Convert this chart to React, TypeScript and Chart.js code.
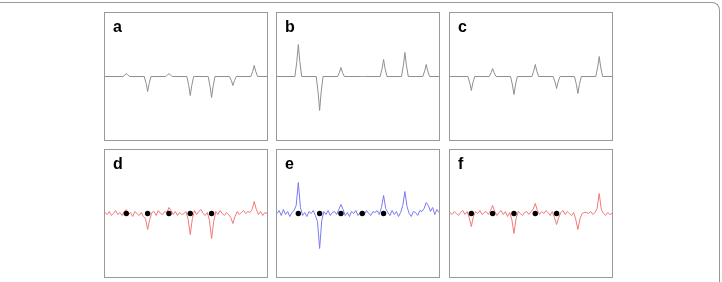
import React, { useEffect, useRef } from "react";
import { Chart, registerables } from "chart.js";

Chart.register(...registerables);

// Clean signals (panels a, b, c): x positions shared, y values per panel
const cleanX = [0, 16.8, 18.6, 20, 21.4, 23.2, 36.8, 38.6, 40, 41.4, 43.2, 56.8, 58.6, 60, 61.4, 63.2, 76.8, 78.6, 80, 81.4, 83.2, 96.8, 98.6, 100, 101.4, 103.2, 116.8, 118.6, 120, 121.4, 123.2, 136.8, 138.6, 140, 141.4, 143.2, 152];
const seriesA = [0, 0, 1.4, 3, 1.4, 0, 0, -7, -15, -7, 0, 0, 1.4, 3, 1.4, 0, 0, -9, -19, -9, 0, 0, -10, -21, -10, 0, 0, -4.2, -9, -4.2, 0, 0, 5.2, 11, 5.2, 0, 0];
const seriesB = [0, 0, 15, 32, 15, 0, 0, -16, -34, -16, 0, 0, 4.2, 9, 4.2, 0, 0, 0, 0, 0, 0, 0, 8, 17, 8, 0, 0, 11.3, 24, 11.3, 0, 0, 5.6, 12, 5.6, 0, 0];
const seriesC = [0, 0, -6.6, -14, -6.6, 0, 0, 3.8, 8, 3.8, 0, 0, -8.5, -18, -8.5, 0, 0, 5.6, 12, 5.6, 0, 0, -5.6, -12, -5.6, 0, 0, -8, -17, -8, 0, 0, 9.4, 20, 9.4, 0, 0];

// Noisy signals (panels d, e, f)
const noisyX = [0, 2, 4, 6, 8, 10, 12, 14, 16, 18, 20, 22, 24, 26, 28, 30, 32, 34, 36, 38, 40, 42, 44, 46, 48, 50, 52, 54, 56, 58, 60, 62, 64, 66, 68, 70, 72, 74, 76, 78, 80, 82, 84, 86, 88, 90, 92, 94, 96, 98, 100, 102, 104, 106, 108, 110, 112, 114, 116, 118, 120, 122, 124, 126, 128, 130, 132, 134, 136, 138, 140, 142, 144, 146, 148, 150, 152];
const seriesD = [1, -1, 2, -2, 0, 3, -1, 1, -2, 2, 4, -1, 1, -3, 2, 0, -2, 1, -3, -5, -16, -6, 1, 2, -2, 3, 0, -1, 2, 1, 6, 3, -1, 2, -2, 1, -1, 0, 2, -6, -21, -5, 3, -1, 2, 4, 0, -2, 1, -7, -25, -8, 2, -1, 3, 0, -2, 1, -1, -4, -10, -3, 2, -1, 1, 3, 0, 2, 1, 4, 12, 4, -1, 2, -2, 1, 0];
const seriesE = [0, 3, -2, 4, -1, 2, -3, 1, 3, 8, 31, 6, -2, 1, -3, 2, 0, 3, -2, -8, -35, -7, 2, -1, 3, -2, 1, 2, -1, 4, 9, 4, -2, 1, -3, 2, 0, 3, -2, 1, 2, -1, 3, 0, -2, 2, 1, 3, -1, 6, 18, 5, 1, -2, 3, -1, 2, -3, 1, 8, 22, 7, 0, -3, 2, 1, -2, 3, 2, 5, 11, 8, 2, 6, -1, 4, 1];
const seriesF = [1, -1, 2, 0, -2, 1, 3, -1, 2, -4, -13, -3, 2, 0, 3, -1, 1, 2, -1, 3, 8, 2, -2, 1, 3, -1, 2, -3, 1, -6, -20, -5, 2, 0, -2, 1, 2, -1, 2, 4, 10, 3, -1, 2, 0, 3, 1, -2, 2, -4, -11, -4, 1, 3, -1, 2, 0, -2, 1, -6, -16, -5, 0, 1, 1, 0, 2, -1, 1, 5, 20, 4, 0, -2, 1, -1, 0];

// Marker dots on the lower panels
const dotX = [20, 40, 60, 80, 100];
const dotY = [0, 0, 0, 0, 0];

const panelLabels = ["a", "b", "c", "d", "e", "f"];

type PanelSpec = {
  label: string;
  xs: number[];
  ys: number[];
  color: string;
  dots: boolean;
  left: number;
  top: number;
};

const GREY = "#8f8f8f";
const RED = "#f07a7a";
const BLUE = "#7a7af2";

const colLeft = [104, 276, 449];
const rowTop = [12, 149];

const panels: PanelSpec[] = [
  { label: panelLabels[0], xs: cleanX, ys: seriesA, color: GREY, dots: false, left: colLeft[0], top: rowTop[0] },
  { label: panelLabels[1], xs: cleanX, ys: seriesB, color: GREY, dots: false, left: colLeft[1], top: rowTop[0] },
  { label: panelLabels[2], xs: cleanX, ys: seriesC, color: GREY, dots: false, left: colLeft[2], top: rowTop[0] },
  { label: panelLabels[3], xs: noisyX, ys: seriesD, color: RED, dots: true, left: colLeft[0], top: rowTop[1] },
  { label: panelLabels[4], xs: noisyX, ys: seriesE, color: BLUE, dots: true, left: colLeft[1], top: rowTop[1] },
  { label: panelLabels[5], xs: noisyX, ys: seriesF, color: RED, dots: true, left: colLeft[2], top: rowTop[1] },
];

const W = 162;
const H = 127;

function Panel({ spec }: { spec: PanelSpec }) {
  const ref = useRef<HTMLCanvasElement | null>(null);
  useEffect(() => {
    if (!ref.current) return;
    const datasets: any[] = [];
    if (spec.dots) {
      datasets.push({
        type: "scatter",
        data: dotX.map((x, i) => ({ x, y: dotY[i] })),
        pointRadius: 2.7,
        pointBackgroundColor: "#000",
        pointBorderColor: "#000",
        pointBorderWidth: 0,
        showLine: false,
        order: 0,
      });
    }
    datasets.push({
      type: "line",
      data: spec.xs.map((x, i) => ({ x, y: spec.ys[i] })),
      borderColor: spec.color,
      borderWidth: 1,
      pointRadius: 0,
      tension: 0,
      fill: false,
      order: 1,
    });
    const chart = new Chart(ref.current, {
      type: "line",
      data: { datasets },
      options: {
        animation: false,
        responsive: false,
        maintainAspectRatio: false,
        layout: { padding: 0, autoPadding: false },
        plugins: { legend: { display: false }, tooltip: { enabled: false }, title: { display: false } },
        scales: {
          x: { type: "linear", min: 0, max: 152, display: false },
          y: { type: "linear", min: -63.5, max: 63.5, display: false },
        },
      },
    });
    return () => chart.destroy();
  }, [spec]);
  return (
    <div
      style={{
        position: "absolute",
        left: spec.left,
        top: spec.top,
        width: W,
        height: H,
        border: "1px solid #9a9a9a",
      }}
    >
      <canvas ref={ref} width={W} height={H} style={{ display: "block" }} />
      <div
        style={{
          position: "absolute",
          left: 8,
          top: 5,
          fontFamily: "'Liberation Sans', Arial, sans-serif",
          fontWeight: "bold",
          fontSize: 16,
          lineHeight: "18px",
          color: "#000",
        }}
      >
        {spec.label}
      </div>
    </div>
  );
}

export default function App() {
  return (
    <div style={{ position: "absolute", left: 0, top: 0, width: 722, height: 282, background: "#fff" }}>
      <div
        style={{
          position: "absolute",
          left: 0,
          top: 2,
          width: 719,
          height: 290,
          borderTop: "1px solid #999",
          borderRight: "1px solid #999",
          borderTopRightRadius: 8,
        }}
      />
      {panels.map((p) => (
        <Panel key={p.label} spec={p} />
      ))}
    </div>
  );
}
